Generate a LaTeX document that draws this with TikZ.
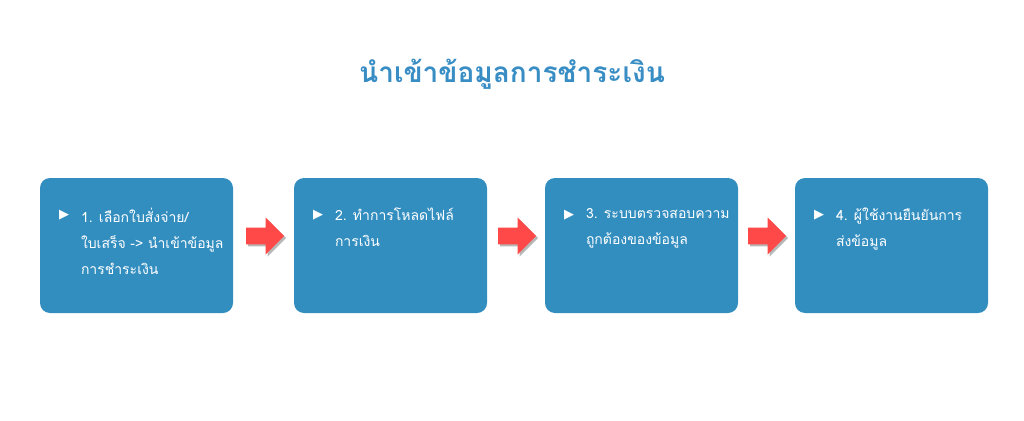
\documentclass[tikz,border=0pt]{standalone}
\usepackage{fontspec}
\newfontfamily\thai[Script=Thai]{Loma}
\newfontfamily\symb{DejaVu Sans}
\usetikzlibrary{shapes.arrows,shadows}
\definecolor{boxblue}{RGB}{51,142,192}
\definecolor{titleblue}{RGB}{55,141,196}
\definecolor{arrowred}{RGB}{255,72,72}
\tikzset{
  stepbox/.style={rectangle,rounded corners=10pt,fill=boxblue,minimum width=193pt,minimum height=135pt,inner sep=0pt},
  steptext/.style={anchor=north west,align=left,text=white,font=\thai\fontsize{14}{26}\selectfont,inner sep=0pt},
  bul/.style={anchor=north west,text=white,font=\symb\fontsize{13}{14}\selectfont,inner sep=0pt},
  redarrow/.style={single arrow,fill=arrowred,minimum height=38pt,minimum width=37pt,single arrow head extend=10pt,inner sep=8pt,
    drop shadow={shadow xshift=2pt,shadow yshift=-2pt,fill=black!35,opacity=0.8}}
}
\begin{document}
\begin{tikzpicture}[x=1pt,y=-1pt]
\useasboundingbox (0,0) rectangle (1024,420);
\fill[white] (0,0) rectangle (1024,420);
\node[text=titleblue,font=\thai\bfseries\fontsize{28}{34}\selectfont] (title) at (512,74) {นำเข้าข้อมูลการชำระเงิน};

\node[stepbox] (b1) at (136.5,245.5) {};
\node[stepbox] (b2) at (390.5,245.5) {};
\node[stepbox] (b3) at (641.5,245.5) {};
\node[stepbox] (b4) at (891.5,245.5) {};

\foreach \i in {1,2,3,4}{
  \node[bul] (u\i) at ([xshift=19pt,yshift=-32pt]b\i.north west) {▶};
}
\node[steptext] (t1) at ([xshift=41pt,yshift=-30pt]b1.north west) {1. เลือกใบสั่งจ่าย/\\ใบเสร็จ -> นำเข้าข้อมูล\\การชำระเงิน};
\node[steptext] (t2) at ([xshift=41pt,yshift=-30pt]b2.north west) {2. ทำการโหลดไฟล์\\การเงิน};
\node[steptext] (t3) at ([xshift=41pt,yshift=-30pt]b3.north west) {3. ระบบตรวจสอบความ\\ถูกต้องของข้อมูล};
\node[steptext] (t4) at ([xshift=41pt,yshift=-30pt]b4.north west) {4. ผู้ใช้งานยืนยันการ\\ส่งข้อมูล};

\node[redarrow] (a1) at (261,236) {};
\node[redarrow] (a2) at (513,236) {};
\node[redarrow] (a3) at (763,236) {};
\end{tikzpicture}
\end{document}
